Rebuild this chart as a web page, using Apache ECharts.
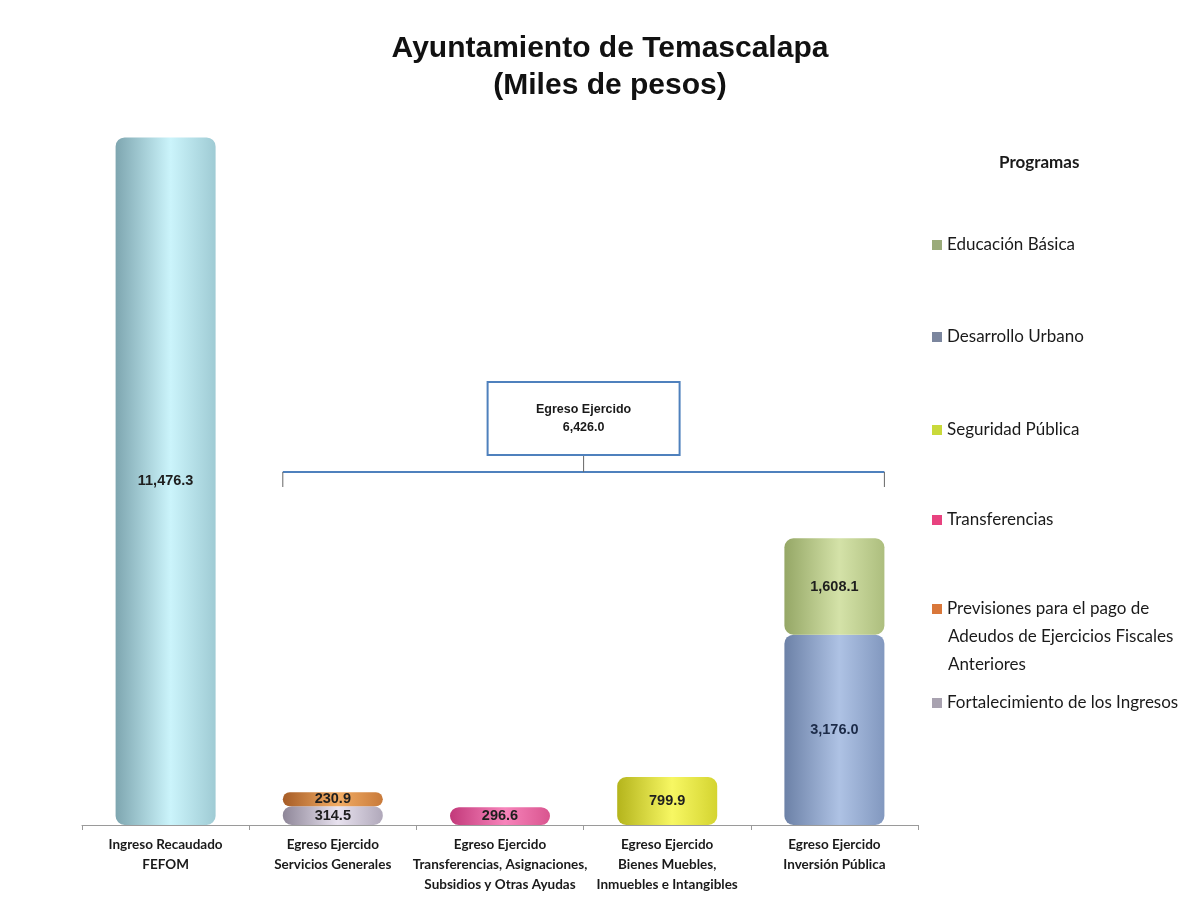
<!DOCTYPE html>
<html>
<head>
<meta charset="utf-8">
<script src="https://cdn.jsdelivr.net/npm/echarts@6/dist/echarts.min.js"></script>
<style>
  html, body { margin: 0; padding: 0; background: #fff; }
  #main { width: 1204px; height: 907px; }
</style>
</head>
<body>
<div id="main"></div>
<script>
// categorias del eje x
const categorias = [
  'Ingreso Recaudado\nFEFOM',
  'Egreso Ejercido\nServicios Generales',
  'Egreso Ejercido\nTransferencias, Asignaciones,\nSubsidios y Otras Ayudas',
  'Egreso Ejercido\nBienes Muebles,\nInmuebles e Intangibles',
  'Egreso Ejercido\nInversión Pública'
];

// valores por serie (miles de pesos)
const ingresoRecaudado = [11476.3, null, null, null, null];
const fortalecimiento = [null, 314.5, null, null, null];
const previsiones = [null, 230.9, null, null, null];
const transferencias = [null, null, 296.6, null, null];
const seguridad = [null, null, null, 799.9, null];
const desarrollo = [null, null, null, null, 3176.0];
const educacion = [null, null, null, null, 1608.1];

// orden de la leyenda (de arriba a abajo)
const programas = [
  'Educación Básica',
  'Desarrollo Urbano',
  'Seguridad Pública',
  'Transferencias',
  'Previsiones para el pago de Adeudos de Ejercicios Fiscales Anteriores',
  'Fortalecimiento de los Ingresos'
];
const legendY = [245, 337, 430, 520, 609, 703];

function cyl(dark, light, right) {
  return new echarts.graphic.LinearGradient(0, 0, 1, 0, [
    { offset: 0, color: dark },
    { offset: 0.55, color: light },
    { offset: 1, color: right }
  ]);
}

function fmt(v) {
  return v.toLocaleString('en-US', { minimumFractionDigits: 1, maximumFractionDigits: 1 });
}

const labelStyle = {
  show: true,
  position: 'inside',
  fontFamily: 'Liberation Sans',
  fontWeight: 'bold',
  fontSize: 14.5,
  color: '#1e1e1e',
  formatter: p => fmt(p.value)
};

function serie(name, data, color, iconColor, labelColor) {
  return {
    name: name,
    type: 'bar',
    stack: 'total',
    barWidth: 100,
    data: data,
    itemStyle: { color: color, borderRadius: 9 },
    label: Object.assign({}, labelStyle, labelColor ? { color: labelColor } : {}),
    _icon: iconColor
  };
}

const series = [
  serie('Ingreso Recaudado', ingresoRecaudado, cyl('#7ea6b0', '#cbf4fb', '#9fcbd4'), '#a6d9e3'),
  serie(programas[5], fortalecimiento, cyl('#8e8698', '#e8e2ef', '#b0a8ba'), '#a8a2b0'),
  serie(programas[4], previsiones, cyl('#a65c26', '#f2ac64', '#c87a3a'), '#d9773a'),
  serie(programas[3], transferencias, cyl('#c2397a', '#f784bb', '#d9558f'), '#e8427f'),
  serie(programas[2], seguridad, cyl('#b4b41c', '#f7f763', '#d4d430'), '#c9d93a'),
  serie(programas[1], desarrollo, cyl('#6c81a7', '#aec2e4', '#8298bf'), '#7b869e', '#1c2b48'),
  serie(programas[0], educacion, cyl('#95a766', '#d4e2a8', '#adbe7e'), '#9aab7a')
];

const totalEgreso = [fortalecimiento, previsiones, transferencias, seguridad, desarrollo, educacion]
  .reduce((s, arr) => s + arr.reduce((a, v) => a + (v || 0), 0), 0);

const legends = programas.map((name, i) => {
  const multi = i === 4;
  return {
    data: [{ name: name, itemStyle: { color: series.find(s => s.name === name)._icon } }],
    left: 932,
    top: legendY[i] - 11,
    padding: 0,
    icon: 'rect',
    itemWidth: 10,
    itemHeight: 10,
    itemGap: 6,
    selectedMode: false,
    formatter: multi ? () => 'Previsiones para el pago de' : undefined,
    textStyle: { fontFamily: 'Lato', fontSize: 17, color: '#1a1a1a', lineHeight: 22 }
  };
});

const option = {
  backgroundColor: '#fff',
  animation: false,
  title: [
    {
      text: 'Ayuntamiento de Temascalapa\n(Miles de pesos)',
      left: 605,
      textAlign: 'center',
      top: 25,
      textStyle: { fontFamily: 'Liberation Sans', fontWeight: 'bold', fontSize: 30, lineHeight: 37, color: '#111' }
    },
    {
      text: 'Programas',
      left: 999,
      top: 152,
      padding: 0,
      textStyle: { fontFamily: 'Lato', fontWeight: 'bold', fontSize: 17, color: '#1a1a1a', lineHeight: 22 }
    }
  ],
  legend: legends,
  grid: { left: 82, right: 286, top: 106, bottom: 82 },
  xAxis: {
    type: 'category',
    data: categorias,
    axisLine: { lineStyle: { color: '#9a9a9a', width: 1 } },
    axisTick: { show: true, length: 5, lineStyle: { color: '#9a9a9a' } },
    axisLabel: {
      interval: 0,
      margin: 10,
      fontFamily: 'Lato',
      fontWeight: 'bold',
      fontSize: 13.5,
      lineHeight: 20,
      color: '#1a1a1a'
    }
  },
  yAxis: {
    type: 'value',
    min: 0,
    max: 12000,
    show: false,
    splitLine: { show: false }
  },
  series: series
};

const chart = echarts.init(document.getElementById('main'), null, { renderer: 'canvas' });
chart.setOption(option);

// llave "Egreso Ejercido" sobre las barras de egreso
const xIzq = chart.convertToPixel({ xAxisIndex: 0 }, categorias[1]) - 50;
const xDer = chart.convertToPixel({ xAxisIndex: 0 }, categorias[4]) + 50;
const xMid = (xIzq + xDer) / 2;
const yLinea = 472;
chart.setOption({
  graphic: [
    { type: 'line', shape: { x1: xIzq, y1: yLinea, x2: xDer, y2: yLinea }, style: { stroke: '#4f81bd', lineWidth: 2 } },
    { type: 'line', shape: { x1: xIzq, y1: yLinea, x2: xIzq, y2: yLinea + 15 }, style: { stroke: '#666', lineWidth: 1 } },
    { type: 'line', shape: { x1: xDer, y1: yLinea, x2: xDer, y2: yLinea + 15 }, style: { stroke: '#666', lineWidth: 1 } },
    { type: 'line', shape: { x1: xMid, y1: 455, x2: xMid, y2: yLinea }, style: { stroke: '#666', lineWidth: 1 } },
    { type: 'rect', shape: { x: xMid - 96, y: 382, width: 192, height: 73 }, style: { fill: '#fff', stroke: '#4f81bd', lineWidth: 2 } },
    {
      type: 'text', x: xMid, y: 419,
      style: {
        text: 'Egreso Ejercido\n' + fmt(totalEgreso),
        align: 'center', verticalAlign: 'middle',
        font: 'bold 12.5px "Liberation Sans"', lineHeight: 18, fill: '#1a1a1a'
      }
    },
    {
      type: 'text', x: 948, y: 623,
      style: {
        text: 'Adeudos de Ejercicios Fiscales\nAnteriores',
        font: '17px Lato', lineHeight: 28, fill: '#1a1a1a'
      }
    }
  ]
});
</script>
</body>
</html>
